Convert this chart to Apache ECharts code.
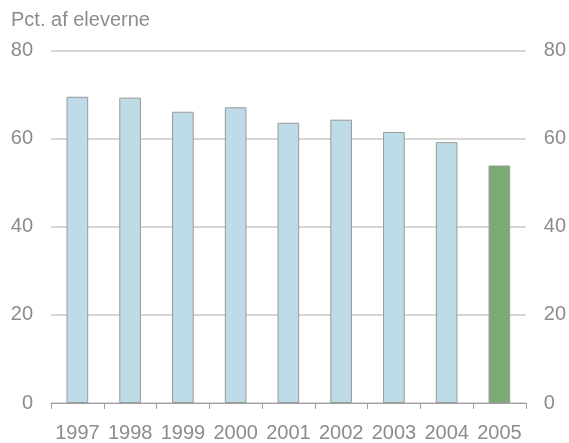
<!DOCTYPE html>
<html>
<head>
<meta charset="utf-8">
<script src="https://cdn.jsdelivr.net/npm/echarts@6/dist/echarts.min.js"></script>
<style>html,body{margin:0;padding:0;background:#fff}#c{width:569px;height:443px}</style>
</head>
<body>
<div id="c"></div>
<script>
const years = ['1997','1998','1999','2000','2001','2002','2003','2004','2005'];
const values = [69.5, 69.3, 66.1, 67.1, 63.6, 64.3, 61.5, 59.2, 53.9];
const yTicks = [0, 20, 40, 60, 80];
const titleText = 'Pct. af eleverne';

const blue = '#bedbe8';
const green = '#7aab73';
const chart = echarts.init(document.getElementById('c'), null, {renderer: 'canvas'});
const font = 'Liberation Sans, Arial, sans-serif';
const labelStyle = {color: '#8c8c8c', fontSize: 20, fontFamily: font};
function yAxis(pos, grid) {
  return {
    type: 'value', position: pos, min: yTicks[0], max: yTicks[yTicks.length-1], interval: 20,
    axisLine: {show: false}, axisTick: {show: false},
    splitLine: {show: grid, lineStyle: {color: '#c8c8c8', width: 1.5}},
    axisLabel: Object.assign({margin: 18}, labelStyle)
  };
}
chart.setOption({
  animation: false,
  title: {text: titleText, left: 11, top: 10, padding: 0, textStyle: {color: '#8c8c8c', fontSize: 20, fontWeight: 'normal', fontFamily: font}},
  grid: {left: 51, right: 42, top: 50.5, bottom: 38},
  xAxis: {
    type: 'category', data: years,
    axisLine: {lineStyle: {color: '#a0a0a0', width: 1}},
    axisTick: {show: true, length: 6, lineStyle: {color: '#a0a0a0'}},
    axisLabel: Object.assign({margin: 20, interval: 0}, labelStyle)
  },
  yAxis: [yAxis('left', true), yAxis('right', false)],
  series: [{
    type: 'bar', data: values.map((v, i) => ({value: v, itemStyle: {color: i === values.length-1 ? green : blue}})),
    barWidth: '41%',
    itemStyle: {borderColor: '#999999', borderWidth: 1}
  }]
});
</script>
</body>
</html>
